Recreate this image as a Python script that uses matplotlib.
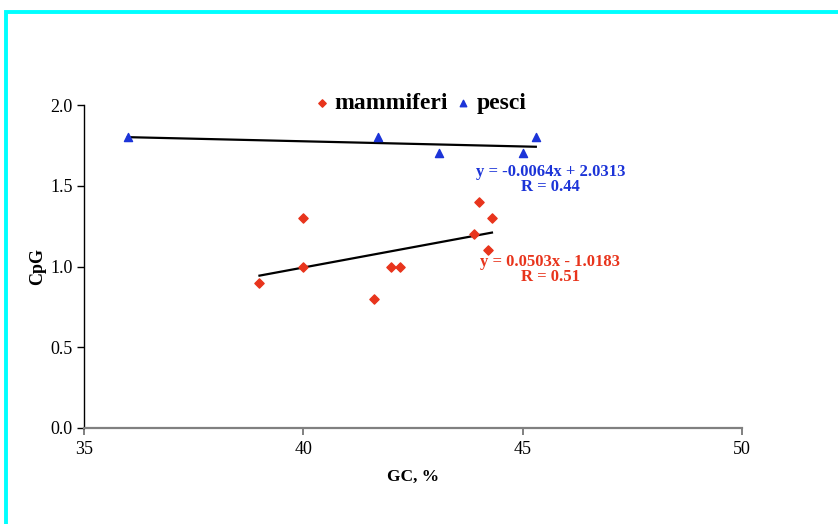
import numpy as np
import matplotlib
matplotlib.use("Agg")
import matplotlib.pyplot as plt
from matplotlib.patches import Rectangle

plt.rcParams['font.family'] = ['Liberation Serif', 'DejaVu Serif']

# mammiferi (red diamonds)
mam_gc = [39.0, 40.0, 40.0, 41.6, 42.0, 42.2, 43.9, 44.0, 44.2, 44.3]
mam_cpg = [0.9, 1.3, 1.0, 0.8, 1.0, 1.0, 1.2, 1.4, 1.1, 1.3]
mam_fit = (0.0503, -1.0183)
mam_r = 0.51

# pesci (blue triangles)
pes_gc = [36.0, 41.7, 43.1, 45.0, 45.3]
pes_cpg = [1.8, 1.8, 1.7, 1.7, 1.8]
pes_fit = (-0.0064, 2.0313)
pes_r = 0.44

x_ticks = [35, 40, 45, 50]
y_ticks = [0.0, 0.5, 1.0, 1.5, 2.0]

red = '#e8341c'
blue = '#1c34d8'

fig = plt.figure(figsize=(8.38, 5.24), dpi=100)
ax = fig.add_axes([84 / 838, 1 - 428 / 524, (742 - 84) / 838, (428 - 105) / 524])

ax.scatter(mam_gc, mam_cpg, marker='D', s=22, color=red, label='mammiferi', zorder=3)
ax.scatter(pes_gc, pes_cpg, marker='^', s=34, color=blue, label='pesci', zorder=3)

# trend lines
for gc, (a, b) in [(mam_gc, mam_fit), (pes_gc, pes_fit)]:
    xs = np.array([min(gc), max(gc)])
    ax.plot(xs, a * xs + b, color='black', lw=1.6, zorder=2)

def eq_text(a, b, r):
    sign = '+' if b >= 0 else '-'
    return f"y = {a:.4f}x {sign} {abs(b):.4f}\nR = {r:.2f}"

ax.text(45.63, 1.54, eq_text(*pes_fit, pes_r), color=blue, fontsize=12,
        fontweight='bold', ha='center', va='center', multialignment='center',
        linespacing=0.95)
ax.text(45.63, 0.98, eq_text(*mam_fit, mam_r), color=red, fontsize=12,
        fontweight='bold', ha='center', va='center', multialignment='center',
        linespacing=0.95)

ax.set_xlim(35, 50)
ax.set_ylim(0, 2.0)
ax.set_xticks(x_ticks)
ax.set_yticks(y_ticks)
ax.set_yticklabels([f"{v:.1f}" for v in y_ticks])
ax.tick_params(axis='both', labelsize=13, direction='out', length=5)
ax.tick_params(axis='x', color='#808080', width=1.4, pad=4)
ax.tick_params(axis='y', color='black', width=1.0, pad=3)

for s in ['top', 'right']:
    ax.spines[s].set_visible(False)
ax.spines['bottom'].set_color('#808080')
ax.spines['bottom'].set_linewidth(1.6)
ax.spines['left'].set_linewidth(1.0)

ax.set_xlabel('GC, %', fontsize=12.5, fontweight='bold', labelpad=8)
ax.set_ylabel('CpG', fontsize=13, fontweight='bold', labelpad=3)

leg = ax.legend(loc='center', bbox_to_anchor=(421 / 838, 1 - 103 / 524),
                bbox_transform=fig.transFigure, ncol=2, frameon=False,
                prop={'weight': 'bold', 'size': 17}, handlelength=0.5,
                handletextpad=0.3, columnspacing=0.4, markerscale=0.8,
                scatterpoints=1, borderpad=0.2)

# cyan frame
fig.patches.append(Rectangle((6 / 838, -0.5), 2, 1.5 - 12 / 524,
                             transform=fig.transFigure, fill=False,
                             edgecolor='#00ffff', lw=2.8, clip_on=False))

fig.savefig('out.png', dpi=100)
